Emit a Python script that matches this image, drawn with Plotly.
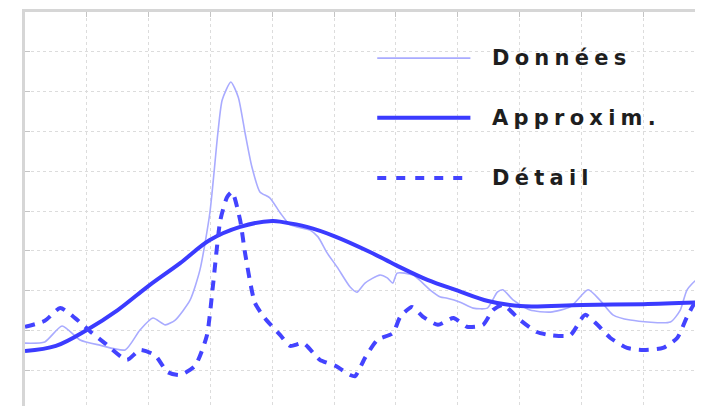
import plotly.graph_objects as go

# ---- data (grid units) ----
data_x = [0.00, 0.32, 0.60, 0.89, 1.21, 1.62, 1.86, 2.07, 2.27, 2.43, 2.67, 2.83, 2.99, 3.12, 3.19,
          3.33, 3.45, 3.56, 3.67, 3.80, 3.96, 4.13, 4.29, 4.61, 4.74, 4.89, 5.05, 5.26, 5.37, 5.50,
          5.74, 5.86, 5.95, 6.02, 6.28, 6.55, 6.72, 6.83, 7.04, 7.25, 7.48, 7.64, 7.73, 7.90, 8.17,
          8.50, 8.82, 9.11, 9.30, 9.51, 9.79, 10.44, 10.60, 10.71, 10.87, 11.0]
data_y = [1.68, 1.71, 2.11, 1.76, 1.63, 1.51, 2.01, 2.31, 2.14, 2.26, 2.76, 3.52, 4.95, 6.96, 7.79,
          8.24, 7.86, 6.96, 6.11, 5.48, 5.33, 4.95, 4.65, 4.52, 4.35, 3.94, 3.59, 3.09, 2.96, 3.19,
          3.39, 3.32, 3.19, 3.44, 3.39, 3.02, 2.84, 2.81, 2.71, 2.56, 2.56, 2.96, 3.02, 2.76, 2.51,
          2.46, 2.59, 3.02, 2.76, 2.39, 2.26, 2.21, 2.51, 3.02, 3.27, 3.19]

approx_x = [0.00, 0.50, 1.00, 1.50, 2.00, 2.51, 2.99, 3.48, 4.00, 4.17, 4.56, 5.00, 5.58, 6.00,
            6.51, 7.00, 7.49, 8.01, 9.01, 10.0, 11.0]
approx_y = [1.48, 1.61, 2.01, 2.51, 3.12, 3.69, 4.27, 4.60, 4.75, 4.72, 4.60, 4.37, 3.97, 3.64,
            3.27, 3.00, 2.74, 2.61, 2.64, 2.66, 2.71]

detail_x = [0.00, 0.32, 0.57, 0.81, 1.05, 1.29, 1.65, 1.86, 2.10, 2.31, 2.51, 2.75, 2.94, 3.04,
            3.16, 3.27, 3.35, 3.48, 3.56, 3.72, 3.88, 4.13, 4.29, 4.50, 4.77, 5.02, 5.26, 5.34,
            5.50, 5.70, 5.95, 6.07, 6.26, 6.44, 6.68, 6.93, 7.15, 7.41, 7.57, 7.73, 8.01, 8.28,
            8.50, 8.82, 9.06, 9.26, 9.47, 9.74, 10.00, 10.32, 10.55, 10.71, 10.84, 11.0]
detail_y = [2.09, 2.24, 2.56, 2.31, 1.98, 1.68, 1.26, 1.51, 1.38, 0.95, 0.88, 1.11, 1.86, 3.12,
            4.77, 5.35, 5.48, 4.77, 3.94, 2.69, 2.31, 1.88, 1.61, 1.68, 1.26, 1.11, 0.88, 0.85,
            1.31, 1.76, 1.93, 2.34, 2.59, 2.34, 2.14, 2.31, 2.09, 2.14, 2.51, 2.64, 2.26, 1.96,
            1.88, 1.88, 2.39, 2.14, 1.81, 1.56, 1.51, 1.56, 1.81, 2.34, 2.69, 2.78]

series_names = ["Données", "Approxim.", "Détail"]
grid_ticks = list(range(0, 12))
y_ticks = list(range(0, 11))

# ---- styles ----
c_data = "#a9abff"
c_approx = "#3b3bff"
c_detail = "#4343ff"

fig = go.Figure()
fig.add_trace(go.Scatter(x=data_x, y=data_y, mode="lines", name=series_names[0],
                         line=dict(color=c_data, width=1.6, shape="spline", smoothing=0.6)))
fig.add_trace(go.Scatter(x=approx_x, y=approx_y, mode="lines", name=series_names[1],
                         line=dict(color=c_approx, width=4, shape="spline", smoothing=1)))
fig.add_trace(go.Scatter(x=detail_x, y=detail_y, mode="lines", name=series_names[2],
                         line=dict(color=c_detail, width=4, dash="10px,8px", shape="spline", smoothing=0.6)))
# helper trace for the right-hand tick marks
fig.add_trace(go.Scatter(x=[], y=[], yaxis="y2", showlegend=False))

fig.update_layout(
    width=703, height=406,
    margin=dict(l=17, r=6, t=4, b=4, pad=0),
    paper_bgcolor="white", plot_bgcolor="white",
    showlegend=False, hovermode=False,
    xaxis=dict(range=[0, 11], side="top", tickvals=grid_ticks, showticklabels=False,
               showgrid=True, gridcolor="#dcdcdc", griddash="dot", gridwidth=1,
               zeroline=False, showline=True, linecolor="#d6d6d6", linewidth=3,
               ticks="inside", ticklen=5, tickcolor="#c4c4c4", tickwidth=1),
    yaxis=dict(range=[0, 10], tickvals=y_ticks, showticklabels=False,
               showgrid=True, gridcolor="#dcdcdc", griddash="dot", gridwidth=1,
               zeroline=False, showline=True, linecolor="#d6d6d6", linewidth=3,
               ticks="inside", ticklen=5, tickcolor="#c4c4c4", tickwidth=1),
    yaxis2=dict(range=[0, 10], overlaying="y", side="right", tickvals=y_ticks,
                showticklabels=False, showgrid=False, zeroline=False, showline=False,
                ticks="inside", ticklen=5, tickcolor="#c4c4c4", tickwidth=1),
)

# ---- manual legend (paper coords of plot area) ----
leg_x0, leg_x1, txt_x = 0.518, 0.655, 0.684
leg_rows = [0.884, 0.734, 0.583]
leg_styles = [dict(color=c_data, width=1.6), dict(color=c_approx, width=4),
              dict(color=c_detail, width=4, dash="9px,10px")]
for name, yy, st in zip(series_names, leg_rows, leg_styles):
    fig.add_shape(type="line", xref="paper", yref="paper", x0=leg_x0, x1=leg_x1, y0=yy, y1=yy,
                  line=st)
    fig.add_annotation(xref="paper", yref="paper", x=txt_x, y=yy, xanchor="left", yanchor="middle",
                       text="\u2005".join(name), showarrow=False,
                       font=dict(family="DejaVu Sans", size=21, color="#1e1e1e", weight="bold"))

fig.write_html("out.html")
